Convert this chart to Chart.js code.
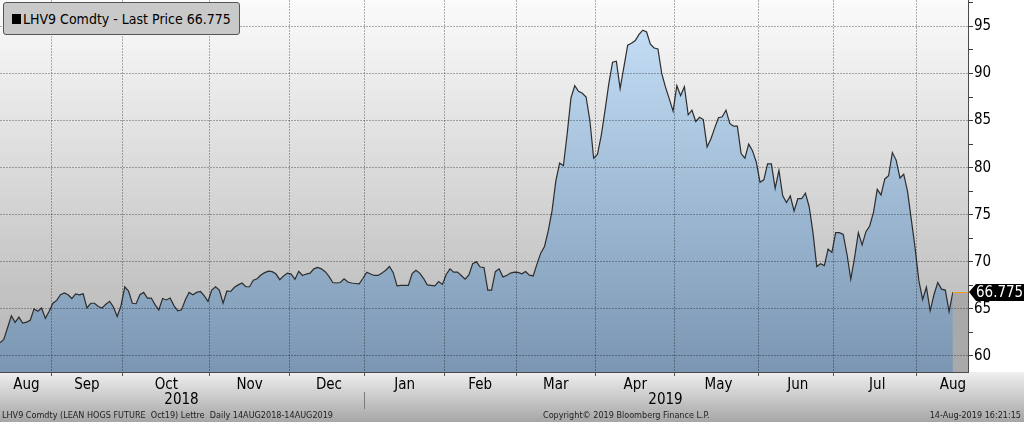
<!DOCTYPE html>
<html>
<head>
<meta charset="utf-8">
<script src="https://cdn.jsdelivr.net/npm/chart.js@4.4.1/dist/chart.umd.min.js"></script>
<style>
    html, body { margin: 0; padding: 0; }
    body {
        width: 1024px; height: 422px; overflow: hidden; position: relative;
        background: linear-gradient(to bottom, #fff 0, #fff 372px, #efefef 372px, #a6a6a6 422px);
        font-family: "DejaVu Sans Condensed", "DejaVu Sans", sans-serif;
    }
    #wrap { position: absolute; left: 0; top: 0; width: 1024px; height: 410px; }
    #legend {
        position: absolute; left: 3px; top: 2px; width: 237px; height: 33px; box-sizing: border-box;
        background: #c9c9c9; border: 1px solid #555; border-radius: 3px;
        font-size: 14px; color: #000; display: flex; align-items: center; padding-left: 8px; white-space: nowrap;
    }
    #legend .sq { display: inline-block; width: 9px; height: 10px; background: #000; margin-right: 2px; }
    .foot { position: absolute; top: 409px; font-size: 9px; line-height: 12px; color: #1e1e1e; white-space: pre; }
</style>
</head>
<body>
<div id="wrap"><canvas id="chart1"></canvas></div>
<div id="legend"></div>
<div class="foot" style="left:2px">LHV9 Comdty (LEAN HOGS FUTURE  Oct19) Lettre  Daily 14AUG2018-14AUG2019</div>
<div class="foot" style="left:543px">Copyright© 2019 Bloomberg Finance L.P.</div>
<div class="foot" style="right:3px">14-Aug-2019 16:21:15</div>
<script>
const ticker = 'LHV9 Comdty';
const months = ['Aug', 'Sep', 'Oct', 'Nov', 'Dec', 'Jan', 'Feb', 'Mar', 'Apr', 'May', 'Jun', 'Jul', 'Aug'];
const years = ['2018', '2019'];
const monthYear = [0, 0, 0, 0, 0, 1, 1, 1, 1, 1, 1, 1, 1];

// daily last price, one array per month (trading days)
const aug18 = [61.4, 61.75, 63.0, 64.27, 63.57, 64.13, 63.5, 63.6, 63.8, 65.0, 64.75, 65.1, 64.0, 64.75];
const sep18 = [65.6, 65.9, 66.5, 66.7, 66.5, 66.1, 66.6, 66.5, 66.6, 65.1, 65.6, 65.6, 65.25, 65.1, 65.5, 65.8, 65.2, 64.2, 65.35];
const oct18 = [67.35, 66.9, 65.6, 65.55, 66.5, 66.75, 66.15, 66.15, 65.45, 64.9, 66.1, 65.95, 66.15, 65.35, 64.8, 64.9, 65.95, 66.75, 66.5, 66.75, 66.85, 66.4, 65.8];
const nov18 = [67.0, 67.35, 67.0, 65.6, 66.9, 66.85, 67.3, 67.55, 67.75, 67.35, 67.35, 68.05, 68.2, 68.6, 68.85, 69.0, 68.95, 68.7, 68.1, 68.5, 68.8];
const dec18 = [68.7, 68.15, 69.0, 68.55, 68.7, 68.8, 69.25, 69.4, 69.25, 68.95, 68.45, 67.8, 67.75, 67.8, 68.2, 67.85, 67.75, 67.7, 67.65, 68.25];
const jan19 = [68.9, 68.7, 68.55, 68.55, 68.8, 69.1, 69.5, 68.85, 67.45, 67.5, 67.5, 67.5, 68.75, 69.1, 68.8, 68.25, 67.55, 67.5, 67.45, 67.9, 67.6];
const feb19 = [68.65, 69.25, 68.9, 68.9, 68.55, 68.15, 68.6, 69.8, 70.0, 69.45, 69.4, 67.0, 67.0, 68.95, 69.25, 68.4, 68.55, 68.8, 68.9];
const mar19 = [68.87, 68.72, 68.97, 68.58, 68.5, 69.75, 70.92, 71.63, 73.3, 75.43, 78.6, 80.5, 80.2, 83.6, 87.4, 88.7, 88.1, 87.9, 87.5, 85.0, 81.0];
const apr19 = [81.4, 83.4, 86.06, 88.9, 91.2, 91.3, 88.4, 90.7, 93.0, 93.2, 93.5, 94.15, 94.6, 94.4, 93.1, 92.7, 92.6, 90.0, 88.55, 87.3, 86.0];
const may19 = [88.7, 87.65, 88.6, 85.6, 86.1, 84.9, 85.35, 85.1, 82.2, 83.05, 84.2, 85.3, 85.4, 86.1, 84.7, 84.4, 84.4, 81.5, 81.0, 82.5, 81.8, 80.6];
const jun19 = [78.45, 78.7, 80.4, 80.4, 77.8, 79.7, 77.0, 76.3, 77.0, 75.4, 76.7, 76.7, 77.3, 75.85, 73.1, 69.5, 69.8, 69.6, 71.35, 71.0];
const jul19 = [73.1, 73.1, 72.9, 70.8, 68.15, 70.45, 73.1, 71.8, 73.2, 73.8, 75.25, 77.7, 77.1, 78.8, 79.15, 81.6, 80.8, 78.9, 79.3, 77.5, 74.5, 71.5];
const aug19 = [68.0, 66.0, 67.3, 64.8, 66.5, 67.8, 67.1, 67.0, 64.7, 66.775];

const monthValues = [aug18, sep18, oct18, nov18, dec18, jan19, feb19, mar19, apr19, may19, jun19, jul19, aug19];

const FONT = '"DejaVu Sans Condensed", "DejaVu Sans", sans-serif';

var labels = [];
var prices = [];
var monthStart = {};
var monthTick = {};
var yearTick = {};
var yearSep = -1;
var yearFirst = {};

monthValues.forEach(function (vals, m) {
    var start = prices.length;
    if (start > 0) monthStart[start] = true;
    if (yearFirst[monthYear[m]] === undefined) yearFirst[monthYear[m]] = start;
    if (m > 0 && monthYear[m] !== monthYear[m - 1]) yearSep = start;
    var idx = m === months.length - 1 ? start + vals.length - 1 : Math.round(start + (vals.length - 1) / 2);
    monthTick[idx] = months[m];
    vals.forEach(function (v) {
        labels.push(months[m]);
        prices.push(v);
    });
});
// a few empty slots after the last price, like the terminal does
for (var k = 0; k < 4; k++) labels.push('');

yearTick[Math.floor((yearFirst[0] + yearSep - 1) / 2)] = years[0];
yearTick[Math.floor((yearSep + labels.length - 1) / 2)] = years[1];

const lastPrice = prices[prices.length - 1];
document.getElementById('legend').innerHTML =
    '<span class="sq"></span>' + ticker + ' - Last Price ' + lastPrice.toFixed(3);

const gridColor = 'rgba(0,0,0,0.3)';

const bloombergPlugin = {
    id: 'bloomberg',
    beforeDraw: function (chart) {
        const ctx = chart.ctx, a = chart.chartArea;
        const g = ctx.createLinearGradient(0, a.top, 0, a.bottom);
        g.addColorStop(0, '#fbfbfb');
        g.addColorStop(1, '#b3b3b3');
        ctx.save();
        ctx.fillStyle = g;
        ctx.fillRect(a.left, a.top, a.right - a.left, a.bottom - a.top);
        ctx.restore();
    },
    afterDatasetsDraw: function (chart) {
        const ctx = chart.ctx, a = chart.chartArea;
        const px = chart.scales.x.getPixelForValue(prices.length - 1);
        const py = chart.scales.y.getPixelForValue(lastPrice);
        ctx.save();
        ctx.fillStyle = '#a9a9a9';
        ctx.fillRect(px, py, a.right - px, a.bottom - py);
        ctx.strokeStyle = '#f49b22';
        ctx.lineWidth = 1;
        ctx.beginPath();
        ctx.moveTo(px, Math.round(py) + 0.5);
        ctx.lineTo(a.right, Math.round(py) + 0.5);
        ctx.stroke();
        ctx.restore();
    },
    afterDraw: function (chart) {
        const ctx = chart.ctx, a = chart.chartArea;
        const ty = Math.round(chart.scales.y.getPixelForValue(lastPrice));
        const tx = a.right + 1;
        ctx.save();
        ctx.fillStyle = '#000';
        ctx.beginPath();
        ctx.moveTo(tx, ty);
        ctx.lineTo(tx + 7, ty - 8);
        ctx.lineTo(chart.width, ty - 8);
        ctx.lineTo(chart.width, ty + 9);
        ctx.lineTo(tx + 7, ty + 9);
        ctx.closePath();
        ctx.fill();
        ctx.fillStyle = '#fff';
        ctx.font = '15px ' + FONT;
        ctx.textBaseline = 'middle';
        ctx.fillText(lastPrice.toFixed(3), tx + 7, ty + 1);
        ctx.restore();
    }
};

const Chart1 = new Chart(document.getElementById('chart1'), {
    type: 'line',
    data: {
        labels: labels,
        datasets: [{
            label: ticker,
            data: prices,
            borderColor: '#2d2d2d',
            borderWidth: 1.2,
            pointRadius: 0,
            tension: 0,
            fill: 'start',
            backgroundColor: function (context) {
                const a = context.chart.chartArea;
                if (!a) return 'rgba(150,180,210,0.9)';
                const g = context.chart.ctx.createLinearGradient(0, a.top, 0, a.bottom);
                g.addColorStop(0, '#c9e3fb');
                g.addColorStop(1, '#7b96b2');
                return g;
            }
        }]
    },
    plugins: [bloombergPlugin],
    options: {
        responsive: true,
        maintainAspectRatio: false,
        animation: false,
        layout: { padding: 0 },
        plugins: {
            legend: { display: false },
            tooltip: { enabled: false }
        },
        scales: {
            x: {
                type: 'category',
                position: 'bottom',
                weight: 0,
                afterFit: function (s) { s.height = 20; s.paddingLeft = 0; s.paddingRight = 0; },
                grid: {
                    z: 1,
                    offset: true,
                    tickLength: 4,
                    color: function (ctx) { return monthStart[ctx.index] ? gridColor : 'transparent'; },
                    tickColor: function (ctx) { return monthStart[ctx.index] ? '#555' : 'transparent'; }
                },
                border: { display: true, color: '#4a4a4a', dash: [2, 1], z: 1 },
                ticks: {
                    autoSkip: false, maxRotation: 0, minRotation: 0, padding: 0,
                    color: '#000', font: { family: FONT, size: 15 },
                    callback: function (v, i) { return monthTick[i] || ''; }
                }
            },
            x2: {
                type: 'category',
                position: 'bottom',
                weight: 1,
                afterFit: function (s) { s.height = 18; s.paddingLeft = 0; s.paddingRight = 0; },
                grid: {
                    offset: true,
                    drawOnChartArea: false,
                    tickLength: 17,
                    tickColor: function (ctx) { return ctx.index === yearSep ? '#7a7a7a' : 'transparent'; }
                },
                border: { display: false },
                ticks: {
                    autoSkip: false, maxRotation: 0, minRotation: 0, padding: -18,
                    color: '#000', font: { family: FONT, size: 15 },
                    callback: function (v, i) { return yearTick[i] || ''; }
                }
            },
            y: {
                position: 'right',
                min: 58.3,
                max: 97.8,
                afterFit: function (s) { s.width = 56; s.paddingTop = 0; s.paddingBottom = 0; },
                grid: {
                    z: 1,
                    tickLength: 5,
                    color: function (ctx) { return ctx.tick && ctx.tick.value % 5 === 0 ? gridColor : 'transparent'; },
                    tickColor: '#3a3a3a'
                },
                border: { display: true, color: '#4a4a4a', dash: [2, 1], z: 1 },
                ticks: {
                    stepSize: 2.5, includeBounds: false, padding: 1,
                    color: '#000', font: { family: FONT, size: 15 },
                    callback: function (v) { return v % 5 === 0 ? v : ''; }
                }
            }
        }
    }
});
</script>
</body>
</html>
